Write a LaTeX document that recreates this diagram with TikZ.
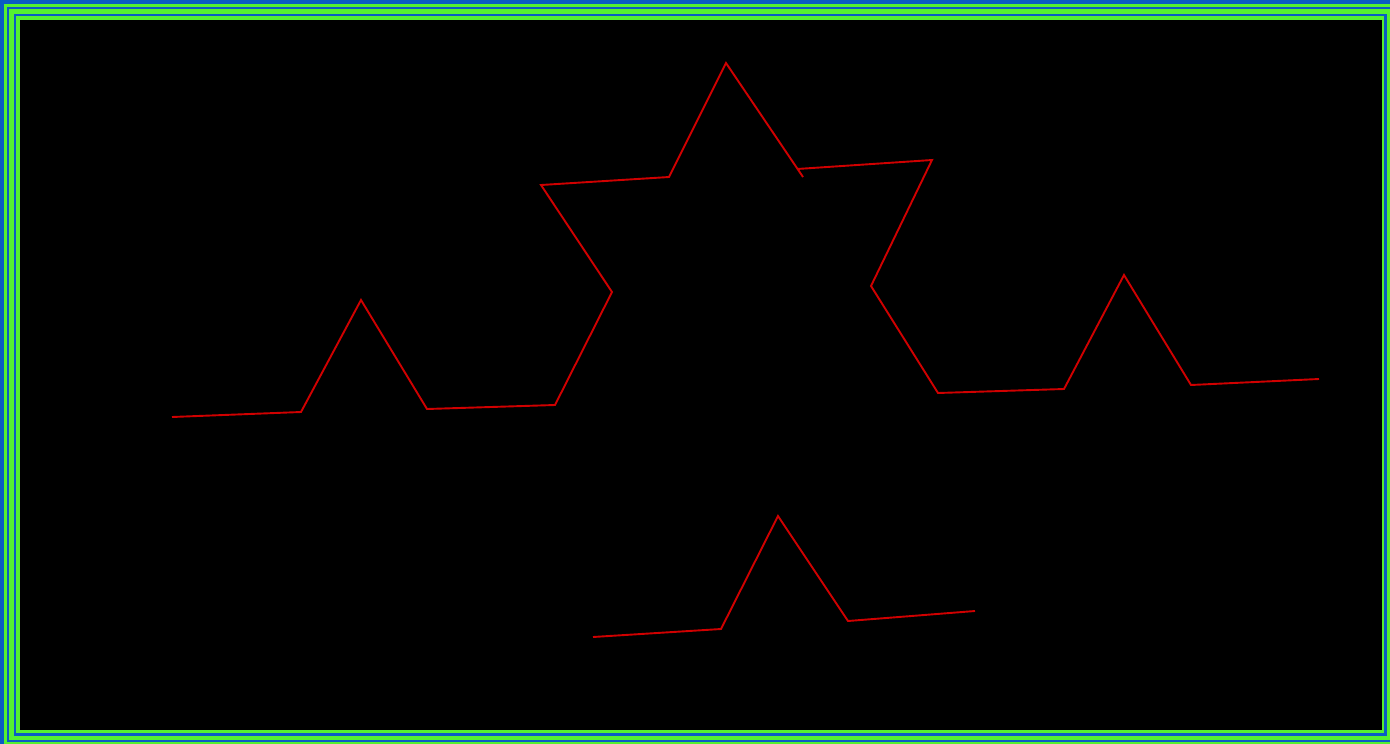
\documentclass[tikz,border=0pt]{standalone}
\usepackage{xcolor}
\definecolor{frameblue}{HTML}{0A5CC4}
\definecolor{framegreen}{HTML}{55F030}
\definecolor{curvered}{HTML}{D00000}
\begin{document}
\begin{tikzpicture}[
  x=1pt, y=-1pt,
  curve/.style={draw=curvered, line width=1.9pt, line join=miter}
]
\useasboundingbox (0,0) rectangle (1390,744);

% Frame layers
\fill[frameblue]  (0,0)   rectangle (1390,744);
\fill[framegreen] (4,4)   rectangle (1400,750);
\fill[frameblue]  (7,7)   rectangle (1395,742);
\fill[framegreen] (9,9)   rectangle (1392,740);
\fill[frameblue]  (14,14) rectangle (1387,736);
\fill[framegreen] (16,16) rectangle (1384,733);
\fill[black]      (20,20) rectangle (1382,730);

% Upper curve
\coordinate (a1) at (172,417);
\coordinate (a2) at (301,412);
\coordinate (a3) at (361,300);
\coordinate (a4) at (427,409);
\coordinate (a5) at (555,405);
\coordinate (a6) at (612,292);
\coordinate (a7) at (541,185);
\coordinate (a8) at (669,177);
\coordinate (a9) at (726,63);
\coordinate (a10) at (803,177);
\coordinate (b1) at (797,169);
\coordinate (b2) at (932,160);
\coordinate (b3) at (871,286);
\coordinate (b4) at (938,393);
\coordinate (b5) at (1064,389);
\coordinate (b6) at (1124,275);
\coordinate (b7) at (1191,385);
\coordinate (b8) at (1319,379);
\draw[curve] (a1) -- (a2) -- (a3) -- (a4) -- (a5) -- (a6) -- (a7) -- (a8) -- (a9) -- (a10);
\draw[curve] (b1) -- (b2) -- (b3) -- (b4) -- (b5) -- (b6) -- (b7) -- (b8);

% Lower curve
\coordinate (c1) at (593,637);
\coordinate (c2) at (721,629);
\coordinate (c3) at (778,516);
\coordinate (c4) at (848,621);
\coordinate (c5) at (975,611);
\draw[curve] (c1) -- (c2) -- (c3) -- (c4) -- (c5);

\end{tikzpicture}
\end{document}
